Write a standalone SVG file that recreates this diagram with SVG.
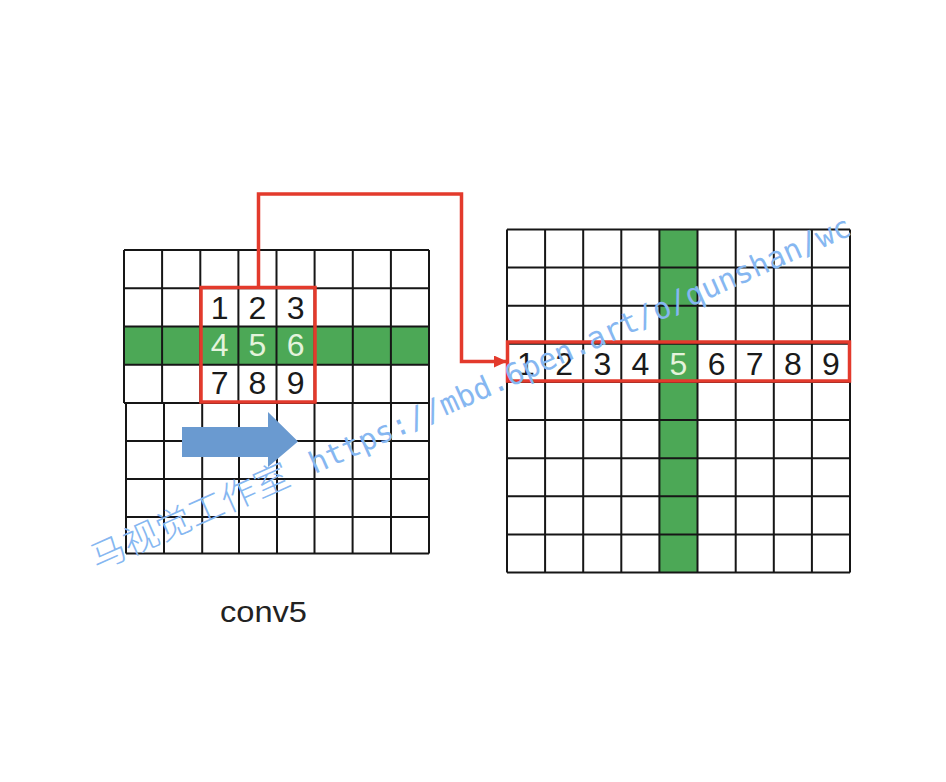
<svg xmlns="http://www.w3.org/2000/svg" width="946" height="782" viewBox="0 0 946 782">
<defs>
<style>
.grid{fill:none;stroke:#161616;stroke-width:2}
.green{fill:#4ca856}
.red{fill:none;stroke:#e33a2c;stroke-width:3.5}
.dig{font-family:"Liberation Sans","Open Sans",sans-serif;font-size:32px;text-anchor:middle;fill:#1a1a1a}
.dig.w{fill:#e4f3dc}
.wm{fill:#86b7f1}
</style>
<marker id="ah" markerWidth="13" markerHeight="12" refX="13" refY="6" orient="auto" markerUnits="userSpaceOnUse">
<path d="M0,0 L13,6 L0,12 Z" fill="#e33a2c"/>
</marker>
</defs>
<rect width="946" height="782" fill="#ffffff"/>

<g id="conv5-grid">
<rect class="green" x="124" y="326.5" width="305" height="38.2"/>
<path class="grid" d="M124,250 H429 M124,288.3 H429 M124,326.5 H429 M124,364.7 H429 M124,403 H429 M124,250 V403 M162.1,250 V403 M200.3,250 V403 M238.4,250 V403 M276.5,250 V403 M314.6,250 V403 M352.8,250 V403 M390.9,250 V403 M429,250 V403"/>
<path class="grid" d="M126,441 H429 M126,479 H429 M126,517 H429 M126,553.5 H429 M126,403 V553.5 M164,403 V553.5 M202.2,403 V553.5 M239,403 V553.5 M277,403 V553.5 M314.5,403 V553.5 M352.6,403 V553.5 M391,403 V553.5 M429,403 V553.5"/>
</g>

<g id="kernel">
<text class="dig" x="219.6" y="318.5">1</text>
<text class="dig" x="257.5" y="318.5">2</text>
<text class="dig" x="295.6" y="318.5">3</text>
<text class="dig w" x="219.6" y="356">4</text>
<text class="dig w" x="257.5" y="356">5</text>
<text class="dig w" x="295.6" y="356">6</text>
<text class="dig" x="219.6" y="393.5">7</text>
<text class="dig" x="257.5" y="393.5">8</text>
<text class="dig" x="295.6" y="393.5">9</text>
<rect class="red" x="201" y="287.5" width="114" height="114.5"/>
</g>

<g id="slide-arrow">
<polygon points="182,427 268,427 268,412 298,441.5 268,467 268,457 182,457" fill="#6a9ad0"/>
</g>

<g id="label">
<text x="263.5" y="622" font-family="Liberation Sans, Arial, sans-serif" font-size="30" fill="#222" text-anchor="middle" textLength="87" lengthAdjust="spacingAndGlyphs">conv5</text>
</g>

<g id="output-grid">
<rect class="green" x="659.4" y="229.5" width="38.1" height="343"/>
<path class="grid" d="M507,229.5 H850 M507,267.6 H850 M507,305.7 H850 M507,343.8 H850 M507,382 H850 M507,420.1 H850 M507,458.2 H850 M507,496.3 H850 M507,534.4 H850 M507,572.5 H850 M507,229.5 V572.5 M545.1,229.5 V572.5 M583.2,229.5 V572.5 M621.3,229.5 V572.5 M659.4,229.5 V572.5 M697.5,229.5 V572.5 M735.7,229.5 V572.5 M773.8,229.5 V572.5 M811.9,229.5 V572.5 M850,229.5 V572.5"/>
</g>

<g id="output-row">
<text class="dig" x="526" y="375">1</text>
<text class="dig" x="564.2" y="375">2</text>
<text class="dig" x="602.3" y="375">3</text>
<text class="dig" x="640.4" y="375">4</text>
<text class="dig w" x="678.5" y="375">5</text>
<text class="dig" x="716.6" y="375">6</text>
<text class="dig" x="754.7" y="375">7</text>
<text class="dig" x="792.8" y="375">8</text>
<text class="dig" x="831" y="375">9</text>
<rect class="red" x="507.5" y="342" width="342" height="39"/>
</g>

<g id="connectors">
<path d="M258.5,288 V194 H461.5 V361.5 H507" fill="none" stroke="#e33a2c" stroke-width="3.5" marker-end="url(#ah)"/>
</g>

<g id="watermark" transform="translate(97,571) rotate(-24)">
<text class="wm" x="0" y="0" font-family="Noto Sans CJK SC, sans-serif" font-weight="300" font-size="34" textLength="214" lengthAdjust="spacingAndGlyphs">马视觉工作室</text>
<text class="wm" x="238" y="0" font-family="DejaVu Sans Mono, monospace" font-size="30" textLength="590" lengthAdjust="spacingAndGlyphs">https://mbd.6pen.art/o/qunshan/wc</text>
</g>
</svg>
